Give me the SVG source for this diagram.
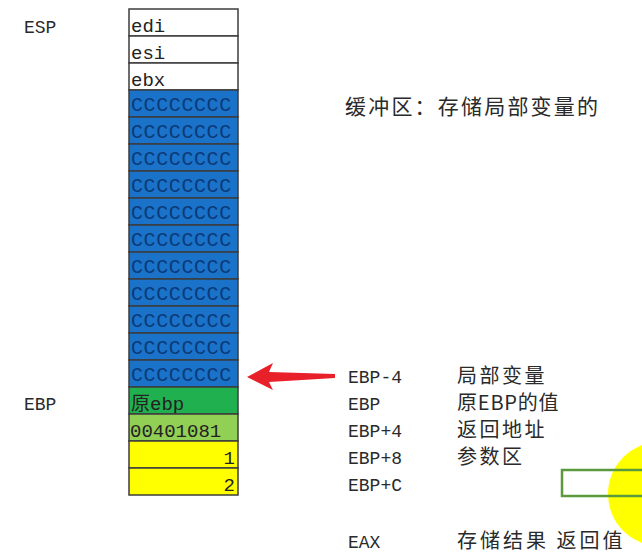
<svg xmlns="http://www.w3.org/2000/svg" width="642" height="559" viewBox="0 0 642 559">
<style>
  .cell{stroke:#3c3c3c;stroke-width:1.5}
  .w{fill:#ffffff}
  .b{fill:#1a72c9}
  .g{fill:#21b04f}
  .lg{fill:#92cf55}
  .y{fill:#ffff00}
  .t{font-family:"Liberation Mono","Noto Sans CJK SC",monospace;font-size:19px;fill:#222}
  .tb{font-family:"Liberation Mono",monospace;font-size:20px;fill:#0a3a78;letter-spacing:0.6px}
  .lab{font-family:"Liberation Mono",monospace;font-size:18px;fill:#2a2a2a}
  .cn{font-family:"Noto Sans CJK SC",sans-serif;font-size:20px;fill:#2a2a2a;letter-spacing:2.5px}
</style>
<rect width="642" height="559" fill="#ffffff"/>

<g id="labels-left">
  <text class="lab" x="24" y="33">ESP</text>
  <text class="lab" x="24" y="410">EBP</text>
</g>

<g id="stack">
  <g id="row-edi"><rect class="cell w" x="129" y="9" width="109" height="27"/><text class="t" x="131" y="32">edi</text></g>
  <g id="row-esi"><rect class="cell w" x="129" y="36" width="109" height="27"/><text class="t" x="131" y="59">esi</text></g>
  <g id="row-ebx"><rect class="cell w" x="129" y="63" width="109" height="27"/><text class="t" x="131" y="86">ebx</text></g>
  <g id="row-buf1"><rect class="cell b" x="129" y="90" width="109" height="27"/><text class="tb" x="131" y="111">CCCCCCCC</text></g>
  <g id="row-buf2"><rect class="cell b" x="129" y="117" width="109" height="27"/><text class="tb" x="131" y="138">CCCCCCCC</text></g>
  <g id="row-buf3"><rect class="cell b" x="129" y="144" width="109" height="27"/><text class="tb" x="131" y="165">CCCCCCCC</text></g>
  <g id="row-buf4"><rect class="cell b" x="129" y="171" width="109" height="27"/><text class="tb" x="131" y="192">CCCCCCCC</text></g>
  <g id="row-buf5"><rect class="cell b" x="129" y="198" width="109" height="27"/><text class="tb" x="131" y="219">CCCCCCCC</text></g>
  <g id="row-buf6"><rect class="cell b" x="129" y="225" width="109" height="27"/><text class="tb" x="131" y="246">CCCCCCCC</text></g>
  <g id="row-buf7"><rect class="cell b" x="129" y="252" width="109" height="27"/><text class="tb" x="131" y="273">CCCCCCCC</text></g>
  <g id="row-buf8"><rect class="cell b" x="129" y="279" width="109" height="27"/><text class="tb" x="131" y="300">CCCCCCCC</text></g>
  <g id="row-buf9"><rect class="cell b" x="129" y="306" width="109" height="27"/><text class="tb" x="131" y="327">CCCCCCCC</text></g>
  <g id="row-buf10"><rect class="cell b" x="129" y="333" width="109" height="27"/><text class="tb" x="131" y="354">CCCCCCCC</text></g>
  <g id="row-buf11"><rect class="cell b" x="129" y="360" width="109" height="27"/><text class="tb" x="131" y="381">CCCCCCCC</text></g>
  <g id="row-oldebp"><rect class="cell g" x="129" y="387" width="109" height="27"/><text class="t" x="131" y="410">原ebp</text></g>
  <g id="row-ret"><rect class="cell lg" x="129" y="414" width="109" height="27"/><text class="t" x="130" y="437">00401081</text></g>
  <g id="row-arg1"><rect class="cell y" x="129" y="441" width="109" height="27"/><text class="t" x="235" y="464" text-anchor="end">1</text></g>
  <g id="row-arg2"><rect class="cell y" x="129" y="468" width="109" height="27"/><text class="t" x="235" y="491" text-anchor="end">2</text></g>
</g>

<g id="note-buffer">
  <text class="cn" x="345" y="114" style="font-size:21px;letter-spacing:2.2px">缓冲区：存储局部变量的</text>
</g>

<g id="offsets">
  <text class="lab" x="348" y="383">EBP-4</text>
  <text class="lab" x="348" y="410">EBP</text>
  <text class="lab" x="348" y="437">EBP+4</text>
  <text class="lab" x="348" y="464">EBP+8</text>
  <text class="lab" x="348" y="491">EBP+C</text>
  <text class="lab" x="348" y="548">EAX</text>
</g>

<g id="meanings">
  <text class="cn" x="457" y="383">局部变量</text>
  <text class="cn" x="457" y="410" style="letter-spacing:0.8px">原EBP的值</text>
  <text class="cn" x="457" y="437">返回地址</text>
  <text class="cn" x="457" y="464">参数区</text>
  <text class="cn" x="457" y="548" style="letter-spacing:3px">存储结果 返回值</text>
</g>

<g id="highlight">
  <circle cx="660" cy="494" r="52" fill="#ffff00"/>
  <rect x="562" y="470" width="90" height="26" fill="none" stroke="#5b9a3c" stroke-width="2.5"/>
</g>

<g id="connectors">
  <polygon points="247,377 273,363 269,372 335,374 335,378 269,382 273,390" fill="#e8202a"/>
</g>
</svg>
